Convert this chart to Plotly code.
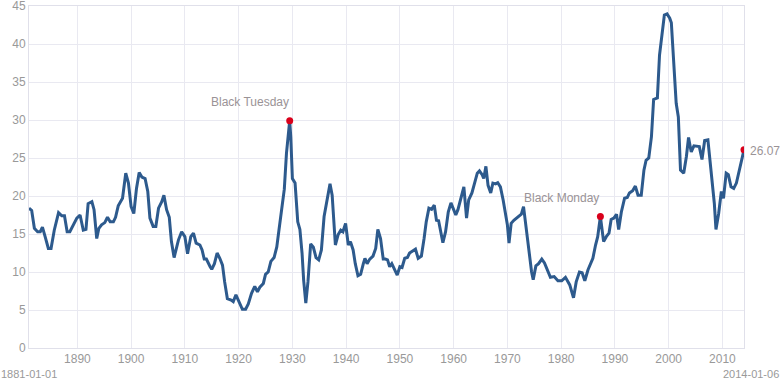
import plotly.graph_objects as go
from datetime import datetime, timedelta

# Decimal years and CAPE values
years = [
    1881.0, 1881.5, 1882.0, 1882.6, 1883.1, 1883.5, 1884.0, 1884.6, 1885.1, 1885.7,
    1886.5, 1887.1, 1887.6, 1888.1, 1888.6, 1889.3, 1889.9, 1890.5, 1891.1, 1891.6,
    1892.0, 1892.7, 1893.1, 1893.6, 1894.0, 1894.5, 1895.1, 1895.6, 1896.1, 1896.7,
    1897.1, 1897.6, 1898.4, 1899.0, 1899.5, 1900.0, 1900.5, 1901.0, 1901.5, 1902.0,
    1902.6, 1903.1, 1903.5, 1904.1, 1904.6, 1905.1, 1905.7, 1906.1, 1906.6, 1907.1,
    1907.5, 1908.0, 1908.8, 1909.4, 1910.0, 1910.5, 1911.1, 1911.6, 1912.1, 1912.8,
    1913.2, 1913.6, 1914.0, 1914.7, 1915.0, 1915.5, 1916.0, 1916.5, 1917.0, 1917.4,
    1917.9, 1918.6, 1919.0, 1919.5, 1920.1, 1920.7, 1921.3, 1921.8, 1922.4, 1923.0,
    1923.5, 1923.95, 1924.6, 1925.0, 1925.5, 1926.0, 1926.6, 1927.1, 1927.5, 1928.0,
    1928.5, 1928.9, 1929.3, 1929.5, 1929.7, 1930.0, 1930.5, 1931.0, 1931.4, 1931.8,
    1932.1, 1932.5, 1932.9, 1933.4, 1933.9, 1934.4, 1934.9, 1935.4, 1935.9, 1936.5,
    1937.0, 1937.4, 1937.7, 1938.0, 1938.5, 1939.0, 1939.4, 1939.9, 1940.4, 1940.8,
    1941.3, 1941.7, 1942.2, 1942.7, 1943.2, 1943.5, 1943.9, 1944.4, 1945.0, 1945.5,
    1945.9, 1946.4, 1946.9, 1947.3, 1947.7, 1948.1, 1948.5, 1949.0, 1949.5, 1950.0,
    1950.4, 1950.9, 1951.4, 1951.8, 1952.4, 1952.9, 1953.4, 1954.0, 1954.5, 1954.9,
    1955.4, 1955.9, 1956.4, 1956.8, 1957.2, 1957.6, 1958.0, 1958.5, 1959.0, 1959.5,
    1959.9, 1960.4, 1960.8, 1961.3, 1961.9, 1962.4, 1962.8, 1963.4, 1963.9, 1964.4,
    1964.8, 1965.3, 1965.6, 1966.0, 1966.4, 1966.9, 1967.3, 1967.8, 1968.2, 1968.7,
    1969.2, 1969.6, 1970.0, 1970.3, 1970.7, 1971.2, 1971.7, 1972.3, 1972.6, 1973.0,
    1973.3, 1973.7, 1974.1, 1974.5, 1974.8, 1975.3, 1975.8, 1976.4, 1976.9, 1977.4,
    1978.0, 1978.7, 1979.4, 1980.1, 1980.8, 1981.6, 1982.3, 1982.8, 1983.4, 1983.9,
    1984.4, 1985.0, 1985.4, 1985.9, 1986.4, 1986.8, 1987.3, 1987.6, 1987.9, 1988.4,
    1988.9, 1989.3, 1989.8, 1990.3, 1990.7, 1991.2, 1991.8, 1992.3, 1992.7, 1993.3,
    1993.8, 1994.3, 1994.9, 1995.4, 1995.8, 1996.3, 1996.8, 1997.2, 1997.5, 1997.9,
    1998.3, 1998.7, 1999.2, 1999.7, 2000.2, 2000.5, 2000.8, 2001.1, 2001.4, 2001.8,
    2002.2, 2002.8, 2003.3, 2003.7, 2004.2, 2004.7, 2005.2, 2005.7, 2006.2, 2006.7,
    2007.3, 2007.7, 2008.2, 2008.5, 2008.8, 2009.3, 2009.8, 2010.2, 2010.7, 2011.1,
    2011.6, 2012.1, 2012.6, 2013.2, 2014.015,
]
cape = [
    18.4, 18.1, 15.75, 15.3, 15.3, 15.9, 14.65, 13.1, 13.1, 15.5,
    17.8, 17.4, 17.4, 15.3, 15.3, 16.2, 17.1, 17.5, 15.5, 15.6,
    19.0, 19.25, 18.2, 14.4, 15.75, 16.2, 16.5, 17.2, 16.6, 16.6,
    17.2, 18.7, 19.7, 23.0, 21.7, 18.6, 17.7, 21.0, 23.1, 22.5,
    22.3, 20.6, 17.1, 16.0, 16.0, 18.4, 19.25, 20.1, 18.2, 17.2,
    14.0, 11.9, 14.2, 15.3, 14.65, 12.4, 14.65, 15.1, 13.8, 13.55,
    12.9, 11.7, 11.7, 10.7, 10.35, 11.1, 12.5, 11.8, 10.9, 8.7,
    6.5, 6.3, 6.1, 7.0, 6.0, 5.1, 5.1, 5.8, 7.2, 8.1,
    7.4, 8.0, 8.5, 9.7, 10.0, 11.4, 11.9, 13.3, 15.5, 18.2,
    20.9, 25.6, 28.0, 29.9, 27.8, 22.3, 21.7, 16.6, 15.6, 12.5,
    8.9, 5.9, 8.7, 13.7, 13.25, 11.9, 11.6, 12.9, 17.3, 19.7,
    21.6, 20.1, 16.4, 13.55, 14.9, 15.5, 15.3, 16.4, 13.55, 14.0,
    12.9, 11.1, 9.5, 9.7, 11.1, 11.8, 11.1, 11.7, 12.1, 13.1,
    15.6, 14.4, 11.7, 11.7, 11.6, 10.7, 11.1, 10.3, 9.6, 10.7,
    10.6, 11.8, 11.9, 12.5, 12.8, 13.0, 11.8, 12.1, 14.4, 16.6,
    18.4, 18.25, 18.8, 16.8, 16.75, 15.3, 13.85, 15.3, 17.9, 19.1,
    18.4, 17.5, 18.2, 19.7, 21.2, 17.1, 19.5, 20.4, 21.7, 23.0,
    23.3, 22.8, 22.3, 23.9, 21.4, 20.4, 21.7, 21.6, 21.75, 21.2,
    19.5, 17.9, 16.2, 13.8, 16.4, 16.8, 17.1, 17.5, 17.6, 18.6,
    16.8, 14.65, 12.0, 10.0, 9.0, 10.8, 11.1, 11.7, 11.2, 10.35,
    9.3, 9.4, 8.85, 8.85, 9.3, 8.3, 6.6, 8.7, 10.0, 9.9,
    8.85, 10.3, 11.05, 11.8, 13.55, 14.65, 17.3, 15.5, 14.0, 14.65,
    15.1, 16.9, 17.1, 17.6, 15.6, 17.9, 19.7, 19.8, 20.4, 20.7,
    21.3, 20.1, 20.1, 23.4, 24.7, 25.0, 27.8, 32.7, 32.8, 32.9,
    38.55, 40.75, 43.8, 43.95, 43.4, 42.8, 39.2, 35.7, 32.2, 30.4,
    23.4, 23.0, 25.2, 27.7, 25.8, 26.6, 26.5, 26.5, 24.8, 27.3,
    27.4, 24.7, 21.9, 19.0, 15.6, 17.7, 20.6, 19.7, 23.0, 22.8,
    21.2, 21.0, 21.7, 23.4, 26.07,
]

event_years = [1929.5, 1987.3]
event_values = [29.9, 17.3]
event_labels = ["Black Tuesday", "Black Monday"]
last_label = "26.07"
start_label = "1881-01-01"
end_label = "2014-01-06"
x_tick_years = list(range(1890, 2011, 10))
y_ticks = list(range(0, 46, 5))


def to_date(y):
    yi = int(y)
    return datetime(yi, 1, 1) + timedelta(days=(y - yi) * 365.25)


dates = [to_date(y) for y in years]
event_dates = [to_date(y) for y in event_years]

FONT = "Liberation Sans, Arial, sans-serif"
GRID = "#e9e9f1"
TXT = "#999999"

fig = go.Figure()
fig.add_trace(go.Scatter(
    x=dates, y=cape, mode="lines",
    line=dict(color="#2d5a8d", width=3),
    hoverinfo="skip", showlegend=False,
))
fig.add_trace(go.Scatter(
    x=event_dates + [dates[-1]], y=event_values + [cape[-1]], mode="markers",
    marker=dict(color="#d9001b", size=7),
    hoverinfo="skip", showlegend=False,
))

for d, v, t in zip(event_dates, event_values, event_labels):
    fig.add_annotation(x=d, y=v, text=t, showarrow=False, xanchor="right",
                       yanchor="middle", yshift=19, xshift=1,
                       font=dict(family=FONT, size=12, color="#9a9396"))
fig.add_annotation(x=dates[-1], y=cape[-1], text=last_label, showarrow=False,
                   xanchor="left", yanchor="middle", xshift=4, yshift=-1,
                   font=dict(family=FONT, size=12, color="#9a9396"))
fig.add_annotation(x=0, y=0, xref="paper", yref="paper", text=start_label,
                   showarrow=False, xanchor="left", yanchor="middle",
                   xshift=-30, yshift=-26,
                   font=dict(family=FONT, size=11, color=TXT))
fig.add_annotation(x=1, y=0, xref="paper", yref="paper", text=end_label,
                   showarrow=False, xanchor="right", yanchor="middle",
                   xshift=37, yshift=-26,
                   font=dict(family=FONT, size=11, color=TXT))

fig.update_layout(
    width=780, height=384,
    margin=dict(l=29, r=36, t=6, b=36),
    paper_bgcolor="white", plot_bgcolor="white",
    font=dict(family=FONT, size=12, color=TXT),
    xaxis=dict(
        type="date", automargin=False,
        range=[to_date(years[0]), dates[-1]],
        tickvals=[datetime(y, 1, 1) for y in x_tick_years],
        ticktext=[str(y) for y in x_tick_years],
        showgrid=True, gridcolor=GRID, gridwidth=1,
        showline=True, linecolor="#e0e0ea", linewidth=1, mirror=True,
        zeroline=False, ticks="", tickfont=dict(family=FONT, size=12, color=TXT),
        ticklabeloverflow="allow",
    ),
    yaxis=dict(
        range=[0, 45], tickvals=y_ticks, automargin=False,
        showgrid=True, gridcolor=GRID, gridwidth=1,
        showline=True, linecolor="#e0e0ea", linewidth=1, mirror=True,
        zeroline=False, ticks="", tickfont=dict(family=FONT, size=12, color=TXT),
        ticklabeloverflow="allow",
    ),
)

fig.write_html(
    "out.html",
    config={"displayModeBar": False},
    post_script="document.body.style.margin='0';document.body.style.overflow='hidden';",
)
